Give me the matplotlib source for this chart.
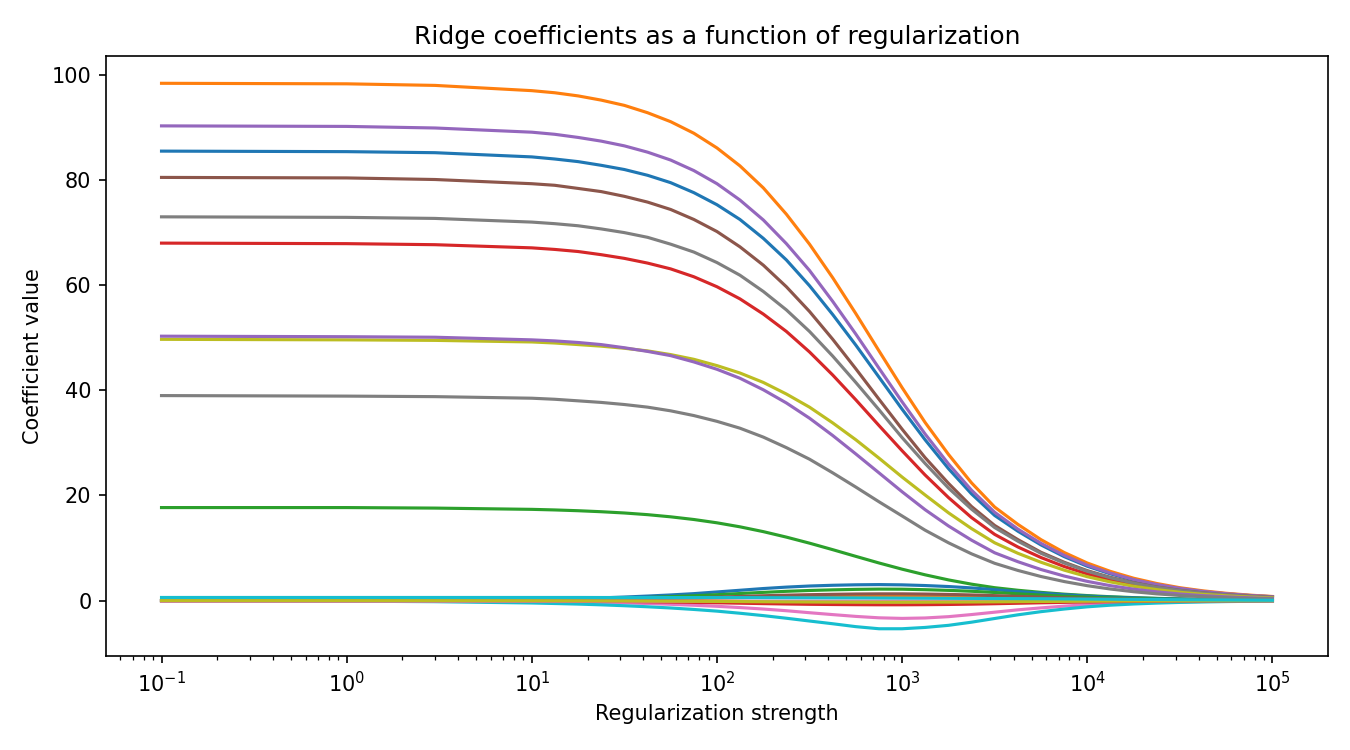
import numpy as np
import matplotlib
matplotlib.use("Agg")
import matplotlib.pyplot as plt

alphas = [0.1, 1, 3,
          10, 13.3, 17.8, 23.7, 31.6, 42.2, 56.2, 75, 100, 133, 178, 237, 316, 422, 562, 750,
          1000, 1330, 1780, 2370, 3160, 4220, 5620, 7500, 10000, 13300, 17800, 23700, 31600,
          42200, 56200, 75000, 100000]

# one list per feature (plotted in this order, default colour cycle)
f00 = [85.5, 85.4, 85.2,
       84.4, 84.0, 83.5, 82.8, 82.0, 80.9, 79.5, 77.6, 75.3, 72.5, 68.9, 64.8, 59.9, 54.4, 48.6, 42.5,
       36.4, 30.6, 25.1, 20.3, 16.2, 13.2, 10.6, 8.37, 6.54, 5.10, 3.90, 2.99, 2.26,
       1.70, 1.29, 0.97, 0.73]
f01 = [98.4, 98.3, 98.0,
       97.0, 96.6, 96.0, 95.2, 94.2, 92.8, 91.1, 88.9, 86.1, 82.7, 78.5, 73.5, 67.8, 61.4, 54.6, 47.5,
       40.5, 33.9, 27.8, 22.4, 17.8, 14.5, 11.6, 9.16, 7.15, 5.57, 4.26, 3.26, 2.46,
       1.86, 1.40, 1.05, 0.79]
f02 = [17.7, 17.7, 17.6,
       17.36, 17.25, 17.10, 16.91, 16.67, 16.35, 15.94, 15.43, 14.80, 14.04, 13.12, 12.08, 10.93, 9.69, 8.42, 7.16,
       5.98, 4.91, 3.94, 3.13, 2.46, 1.97, 1.57, 1.23, 0.96, 0.74, 0.57, 0.43, 0.33,
       0.24, 0.18, 0.14, 0.10]
f03 = [68.0, 67.9, 67.7,
       67.1, 66.8, 66.4, 65.8, 65.1, 64.2, 63.1, 61.6, 59.7, 57.4, 54.5, 51.2, 47.3, 42.9, 38.2, 33.3,
       28.5, 23.9, 19.6, 15.8, 12.6, 10.2, 8.2, 6.49, 5.07, 3.95, 3.02, 2.31, 1.75,
       1.32, 1.00, 0.75, 0.56]
f04 = [90.3, 90.2, 89.9,
       89.1, 88.7, 88.1, 87.4, 86.5, 85.3, 83.8, 81.8, 79.3, 76.2, 72.4, 67.9, 62.8, 56.9, 50.7, 44.2,
       37.8, 31.7, 26.0, 21.0, 16.8, 13.6, 10.9, 8.62, 6.74, 5.25, 4.01, 3.07, 2.33,
       1.75, 1.32, 0.99, 0.75]
f05 = [80.5, 80.4, 80.1,
       79.3, 79.0, 78.4, 77.8, 76.9, 75.8, 74.4, 72.5, 70.2, 67.3, 63.8, 59.7, 55.0, 49.7, 44.1, 38.3,
       32.6, 27.2, 22.3, 17.9, 14.3, 11.6, 9.2, 7.30, 5.70, 4.43, 3.39, 2.59, 1.96,
       1.48, 1.11, 0.84, 0.63]
f06 = [0.0, -0.02, -0.05,
       -0.15, -0.2, -0.26, -0.34, -0.43, -0.55, -0.7, -0.88, -1.08, -1.32, -1.6, -1.92, -2.3, -2.66, -3.0, -3.27,
       -3.38, -3.3, -3.05, -2.65, -2.2, -1.75, -1.38, -1.05, -0.78, -0.57, -0.42, -0.3, -0.22,
       -0.16, -0.12, -0.08, -0.06]
f07 = [73.0, 72.9, 72.7,
       72.0, 71.7, 71.3, 70.7, 70.0, 69.1, 67.8, 66.3, 64.3, 61.9, 58.8, 55.3, 51.2, 46.5, 41.5, 36.3,
       31.0, 26.1, 21.4, 17.4, 13.9, 11.3, 9.0, 7.15, 5.59, 4.35, 3.33, 2.55, 1.93,
       1.46, 1.10, 0.83, 0.62]
f08 = [49.7, 49.6, 49.5,
       49.2, 49.0, 48.7, 48.4, 48.0, 47.5, 46.8, 45.9, 44.7, 43.3, 41.5, 39.3, 36.8, 33.8, 30.6, 27.1,
       23.5, 20.1, 16.7, 13.7, 11.0, 9.0, 7.3, 5.80, 4.55, 3.56, 2.73, 2.10, 1.59,
       1.20, 0.91, 0.68, 0.51]
f09 = [-0.02, -0.1, -0.2,
       -0.45, -0.55, -0.66, -0.8, -0.97, -1.17, -1.4, -1.68, -2.0, -2.4, -2.85, -3.35, -3.88, -4.4, -4.95, -5.35,
       -5.35, -5.1, -4.7, -4.1, -3.4, -2.7, -2.1, -1.6, -1.18, -0.87, -0.64, -0.47, -0.34,
       -0.25, -0.18, -0.13, -0.09]
f10 = [0.0, 0.02, 0.07,
       0.22, 0.3, 0.4, 0.52, 0.68, 0.87, 1.08, 1.33, 1.65, 1.97, 2.3, 2.57, 2.78, 2.92, 3.01, 3.05,
       3.0, 2.87, 2.68, 2.42, 2.08, 1.73, 1.42, 1.12, 0.86, 0.67, 0.52, 0.4, 0.3,
       0.23, 0.17, 0.13, 0.1]
f11 = [0.0, 0.01, 0.02,
       0.06, 0.08, 0.11, 0.15, 0.19, 0.25, 0.31, 0.39, 0.47, 0.56, 0.65, 0.73, 0.79, 0.84, 0.88, 0.9,
       0.9, 0.88, 0.83, 0.76, 0.67, 0.57, 0.47, 0.38, 0.3, 0.23, 0.18, 0.14, 0.11,
       0.08, 0.06, 0.04, 0.03]
f12 = [0.0, 0.01, 0.05,
       0.15, 0.2, 0.27, 0.36, 0.47, 0.6, 0.75, 0.92, 1.13, 1.35, 1.57, 1.77, 1.93, 2.05, 2.14, 2.19,
       2.17, 2.08, 1.95, 1.78, 1.55, 1.3, 1.06, 0.85, 0.66, 0.51, 0.4, 0.3, 0.23,
       0.17, 0.13, 0.1, 0.07]
f13 = [0.0, -0.01, -0.02,
       -0.06, -0.07, -0.1, -0.13, -0.17, -0.22, -0.27, -0.34, -0.41, -0.49, -0.57, -0.64, -0.7, -0.74, -0.77, -0.79,
       -0.79, -0.77, -0.73, -0.67, -0.59, -0.5, -0.41, -0.33, -0.26, -0.2, -0.16, -0.12, -0.09,
       -0.07, -0.05, -0.04, -0.03]
f14 = [50.3, 50.2, 50.1,
       49.6, 49.4, 49.1, 48.7, 48.1, 47.4, 46.6, 45.4, 44.0, 42.3, 40.1, 37.6, 34.7, 31.4, 27.9, 24.3,
       20.7, 17.3, 14.2, 11.5, 9.1, 7.40, 5.92, 4.68, 3.66, 2.85, 2.18, 1.67, 1.26,
       0.95, 0.72, 0.54, 0.40]
f15 = [0.0, 0.01, 0.03,
       0.09, 0.12, 0.16, 0.21, 0.27, 0.35, 0.44, 0.55, 0.67, 0.8, 0.93, 1.04, 1.13, 1.2, 1.26, 1.29,
       1.29, 1.25, 1.18, 1.08, 0.95, 0.81, 0.67, 0.54, 0.43, 0.33, 0.26, 0.2, 0.15,
       0.11, 0.08, 0.06, 0.045]
f16 = [-0.1, -0.1, -0.1,
       -0.1, -0.1, -0.1, -0.1, -0.1, -0.1, -0.1, -0.1, -0.1, -0.1, -0.1, -0.1, -0.1, -0.1, -0.1, -0.1,
       -0.09, -0.09, -0.08, -0.08, -0.07, -0.06, -0.05, -0.045, -0.04, -0.03, -0.025, -0.02, -0.015,
       -0.01, -0.008, -0.006, -0.005]
f17 = [39.0, 38.9, 38.8,
       38.5, 38.3, 38.0, 37.7, 37.3, 36.8, 36.1, 35.2, 34.1, 32.8, 31.1, 29.1, 26.9, 24.3, 21.6, 18.8,
       16.1, 13.4, 11.0, 8.9, 7.1, 5.74, 4.59, 3.63, 2.84, 2.21, 1.69, 1.29, 0.98,
       0.74, 0.56, 0.42, 0.31]
f18 = [0.0, 0.0, -0.01,
       -0.02, -0.03, -0.04, -0.05, -0.06, -0.08, -0.1, -0.12, -0.15, -0.18, -0.21, -0.24, -0.26, -0.28, -0.29, -0.3,
       -0.3, -0.29, -0.28, -0.26, -0.23, -0.19, -0.16, -0.13, -0.1, -0.08, -0.06, -0.05, -0.04,
       -0.03, -0.02, -0.015, -0.01]
f19 = [0.6, 0.6, 0.6,
       0.6, 0.6, 0.6, 0.59, 0.59, 0.59, 0.58, 0.58, 0.58, 0.57, 0.56, 0.55, 0.54, 0.53, 0.52, 0.5,
       0.48, 0.46, 0.44, 0.42, 0.4, 0.38, 0.36, 0.33, 0.3, 0.27, 0.24, 0.21, 0.18,
       0.15, 0.12, 0.09, 0.07]

coefs = np.column_stack([f00, f01, f02, f03, f04, f05, f06, f07, f08, f09,
                         f10, f11, f12, f13, f14, f15, f16, f17, f18, f19])

fig = plt.figure(figsize=(9, 5), dpi=150)
ax = plt.gca()
ax.plot(alphas, coefs)
ax.set_xscale("log")
ax.set_xlabel("Regularization strength")
ax.set_ylabel("Coefficient value")
ax.set_title("Ridge coefficients as a function of regularization")
plt.subplots_adjust(left=0.0785, right=0.9837, top=0.9253, bottom=0.1253)
plt.savefig("out.png", dpi=150)
